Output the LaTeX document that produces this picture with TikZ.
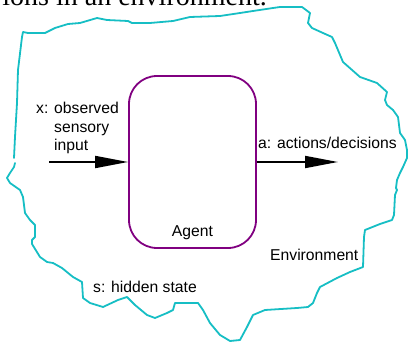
\documentclass[tikz,border=0pt]{standalone}
\usepackage{fontspec}
\setmainfont{Liberation Sans}
\newfontfamily\pageserif{Liberation Serif}
\usetikzlibrary{arrows.meta,positioning}
\definecolor{envcyan}{RGB}{22,190,196}
\definecolor{agentpurple}{RGB}{128,0,128}

\begin{document}
\begin{tikzpicture}[x=1pt, y=-1pt,
  lbl/.style={inner sep=0pt, font=\fontsize{15.7}{18.5}\selectfont},
  flow/.style={-{Triangle[length=33pt,width=12pt]}, line width=1.8pt},
  envline/.style={draw=envcyan, line width=1.8pt, line join=round, line cap=round}]
  \useasboundingbox (0,0) rectangle (408,342);
  % cut-off line of the page text above
  \begin{scope}
    \clip (0,0) rectangle (408,342);
    \node[inner sep=0pt, anchor=base east, font=\pageserif\fontsize{28}{30}\selectfont] (pagetext) at (267,6) {ions in an environment.};
  \end{scope}
  % environment outline
  \draw[envline] (15,163) -- (14,167) -- (10,173) -- (7,178) -- (10,183) -- (20,190) -- (23,197) -- (25,213)
    -- (30,220) -- (35,225) -- (35,237) -- (32,240) -- (32,244) -- (40,257) -- (47,262) -- (53,263)
    -- (62,268) -- (73,277) -- (82,282) -- (83,298) -- (90,303) -- (103,307) -- (118,300) -- (127,297)
    -- (135,305) -- (147,315) -- (155,318) -- (167,313) -- (173,310) -- (175,303) -- (187,303) -- (198,303)
    -- (203,310) -- (210,323) -- (220,335) -- (230,341) -- (240,340) -- (247,327) -- (253,315) -- (265,310)
    -- (297,308) -- (308,307) -- (313,303) -- (317,293) -- (320,287) -- (337,278) -- (350,272) -- (363,267)
    -- (364,237) -- (365,230) -- (370,228) -- (380,224) -- (392,220) -- (394,215) -- (395,195) -- (397,190)
    -- (396,188) -- (397,180) -- (400,173) -- (403,167) -- (407,158) -- (407,150) -- (405,140) -- (400,133)
    -- (398,117) -- (393,110) -- (387,105) -- (385,100) -- (387,92) -- (377,83) -- (360,77) -- (343,62)
    -- (335,43) -- (332,37) -- (323,33) -- (312,28) -- (308,23) -- (310,13) -- (302,7) -- (290,7)
    -- (280,7) -- (273,8) -- (253,11) -- (240,13) -- (220,16) -- (190,17) -- (173,21) -- (150,23)
    -- (132,23) -- (128,21) -- (107,20) -- (97,18) -- (80,23) -- (68,24) -- (55,28) -- (45,33)
    -- (28,33) -- (23,32) -- (22,37) -- (18,70) -- (17,103) -- (15,137) -- (14,158);
  % agent
  \node[draw=agentpurple, line width=1.8pt, rounded corners=28pt, minimum width=127pt, minimum height=172pt] (agent) at (192.5,162) {};
  \node[lbl, anchor=base] (agentname) at (192.5,237) {Agent};
  \coordinate (xin) at (49,162);
  \coordinate (aout) at (338,162);
  \draw[flow] (xin) -- (agent.west);
  \draw[flow] (agent.east) -- (aout);
  \node[lbl, anchor=base west, align=left] (xlabel) at (36,151) {x: observed\\\phantom{x: }sensory\\\phantom{x: }input};
  \node[lbl, anchor=base west] (alabel) at (258,149) {a: actions/decisions};
  \node[lbl, anchor=base west] (envlabel) at (270,261) {Environment};
  \node[lbl, anchor=base west] (slabel) at (93,293) {s: hidden state};
\end{tikzpicture}
\end{document}
